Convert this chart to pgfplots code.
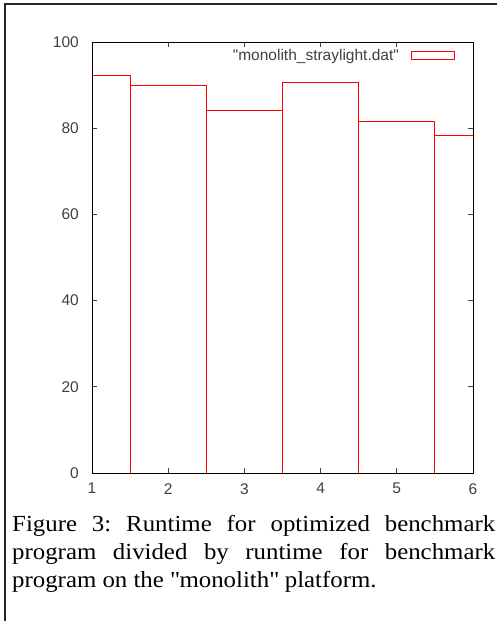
\documentclass[border=0pt]{standalone}
\usepackage{fontspec}
\setmainfont{Liberation Serif}[FakeStretch=1.08]
\newfontfamily\arial{Liberation Sans}
\usepackage{pgfplots}
\pgfplotsset{compat=1.18}
\definecolor{tickgray}{HTML}{404040}
\frenchspacing
\begin{document}
\begin{tikzpicture}[x=1pt,y=1pt]
\path[use as bounding box] (0,0) rectangle (497,621);
\draw[line width=2.2pt, black!85] (5,0) -- (5,617) -- (497,617);
\begin{axis}[
  at={(92pt,148pt)}, anchor=south west,
  width=381pt, height=431pt, scale only axis,
  xmin=1, xmax=6, ymin=0, ymax=100,
  xtick={1,2,3,4,5,6}, ytick={0,20,40,60,80,100},
  tick align=inside, major tick length=5pt,
  tick style={tickgray, line width=0.7pt},
  axis line style={line width=0.9pt, black},
  axis on top,
  /pgf/number format/assume math mode=true,
  ticklabel style={font=\arial\fontsize{15.5}{16}\selectfont, text=tickgray, inner sep=0pt},
  xticklabel style={yshift=-10pt},
  yticklabel style={xshift=-13pt},
  legend plot pos=right,
  legend style={at={(0.9528,0.969)}, anchor=east, draw=none, fill=none,
    font=\arial\fontsize{15.5}{16}\selectfont, text=tickgray, inner sep=0pt,
    nodes={inner sep=0pt}, column sep=12pt},
  legend image code/.code={\draw[red, line width=0.9pt] (0pt,-3.6pt) rectangle (43pt,3.6pt);},
]
\addplot[ybar, bar width=1, bar shift=0pt, draw=red, fill=none, line width=0.9pt]
  coordinates {(1,92.2) (2,90.0) (3,84.1) (4,90.7) (5,81.6) (6,78.3)};
\addlegendentry{\textquotedbl monolith\_straylight.dat\textquotedbl}
\end{axis}
\node[anchor=north west, inner sep=0pt, text width=483pt, align=justify,
  font=\fontsize{23}{28.3}\selectfont] at (12,106)
  {\frenchspacing Figure 3: Runtime for optimized benchmark\linebreak program divided by runtime for benchmark\linebreak program on the \textquotedbl monolith\textquotedbl{} platform.};
\end{tikzpicture}
\end{document}
